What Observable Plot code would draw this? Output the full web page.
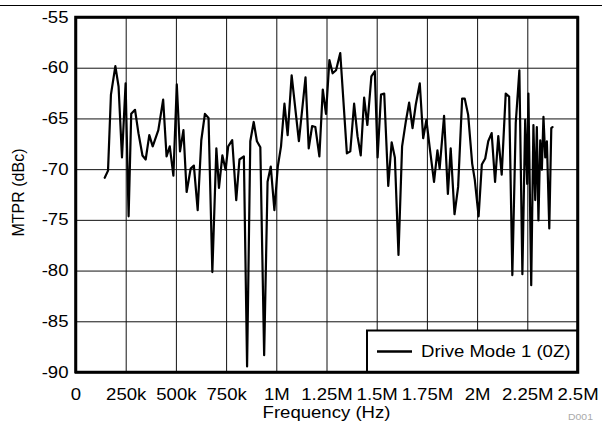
<!DOCTYPE html>
<html>
<head>
<meta charset="utf-8">
<script src="https://cdn.jsdelivr.net/npm/d3@7"></script>
<script src="https://cdn.jsdelivr.net/npm/@observablehq/plot@0.6"></script>
<style>
  html, body { margin: 0; padding: 0; background: white; }
  #chart { position: relative; width: 602px; height: 422px; overflow: hidden; }
</style>
</head>
<body>
<div id="chart"></div>
<script>
// ---- data ----
const freqHz = [
  143000, 159500, 174000, 196000, 212000, 229000, 247000, 262000, 275000, 294000,
  311000, 331000, 347000, 365000, 382000, 410000, 434000, 451000, 467000, 485000,
  502000, 518000, 535000, 551000, 571000, 587000, 606000, 624000, 642000, 660000,
  679000, 699000, 712000, 729000, 745000, 758000, 778000, 798000, 814000, 836000,
  852000, 868000, 885000, 901000, 918000, 937000, 954000, 970000, 988000, 1005000,
  1021000, 1038000, 1054000, 1074000, 1110000, 1143000, 1159000, 1176000, 1192000, 1212000,
  1229000, 1245000, 1262000, 1278000, 1295000, 1316000, 1349000, 1366000, 1385000, 1402000,
  1418000, 1435000, 1451000, 1471000, 1488000, 1502000, 1519000, 1535000, 1555000, 1572000,
  1588000, 1606000, 1624000, 1643000, 1659000, 1676000, 1692000, 1712000, 1729000, 1745000,
  1762000, 1783000, 1800000, 1811000, 1833000, 1852000, 1866000, 1885000, 1903000, 1923000,
  1936000, 1953000, 1973000, 1986000, 2005000, 2021000, 2038000, 2053000, 2070000, 2087000,
  2103000, 2120000, 2140000, 2157000, 2173000, 2190000, 2208000, 2223000, 2237000, 2247000,
  2253000, 2267000, 2278000, 2287000, 2295000, 2303000, 2312000, 2320000, 2328000, 2337000,
  2345000, 2357000, 2367000, 2373000
];
const mtprDbc = [
  -70.8, -70.1, -62.6, -59.8, -61.8, -68.8, -61.5, -74.6, -64.5, -64.1,
  -66.4, -68.6, -69.0, -66.6, -67.7, -66.1, -63.1, -68.7, -67.7, -70.6,
  -61.6, -68.2, -66.1, -72.2, -69.9, -69.6, -74.0, -67.1, -64.5, -64.9,
  -80.1, -67.9, -71.8, -68.6, -70.0, -67.7, -67.1, -73.0, -69.0, -68.7,
  -89.4, -67.2, -65.3, -67.2, -67.8, -88.3, -71.2, -69.7, -74.0, -69.7,
  -67.7, -63.5, -66.6, -60.7, -67.2, -60.9, -67.9, -65.7, -65.8, -68.7,
  -62.1, -64.5, -59.2, -60.5, -60.2, -58.5, -68.4, -68.2, -63.5, -66.7,
  -68.6, -62.9, -65.6, -60.8, -60.3, -68.8, -62.6, -62.5, -71.6, -67.3,
  -68.8, -78.4, -67.7, -65.2, -63.4, -65.9, -63.6, -61.5, -66.9, -65.1,
  -67.9, -71.2, -68.1, -69.9, -64.7, -72.4, -67.9, -74.4, -71.7, -63.0,
  -63.0, -64.6, -69.4, -71.0, -74.6, -69.5, -68.9, -67.2, -66.4, -71.2,
  -66.7, -70.5, -62.5, -62.8, -80.4, -65.4, -60.2, -80.3, -65.1, -71.4,
  -62.5, -81.4, -65.6, -73.0, -65.8, -75.0, -67.1, -70.0, -64.8, -68.8,
  -67.2, -75.8, -65.9, -65.8
];
const xTicks = [0, 250000, 500000, 750000, 1000000, 1250000, 1500000, 1750000, 2000000, 2250000, 2500000];
const xTickLabels = ["0", "250k", "500k", "750k", "1M", "1.25M", "1.5M", "1.75M", "2M", "2.25M", "2.5M"];
const yTicks = [-90, -85, -80, -75, -70, -65, -60, -55];
const yTickLabels = ["-90", "-85", "-80", "-75", "-70", "-65", "-60", "-55"];
const seriesName = "Drive Mode 1 (0Z)";
const xTitle = "Frequency (Hz)";
const yTitle = "MTPR (dBc)";
const figureCode = "D001";

// ---- build ----
const rows = freqHz.map((f, i) => ({ f, v: mtprDbc[i] }));
const STRETCH = 1.16;
const FONT = "'Liberation Sans', Arial, Helvetica, sans-serif";

const chart = Plot.plot({
  width: 602,
  height: 422,
  marginLeft: 75.5,
  marginRight: 24.5,
  marginTop: 17,
  marginBottom: 50,
  style: { fontFamily: FONT, fontSize: "16px", color: "black", background: "white", overflow: "visible" },
  x: {
    domain: [0, 2500000],
    ticks: xTicks,
    tickFormat: d => xTickLabels[xTicks.indexOf(d)],
    tickSize: 0,
    tickPadding: 16,
    label: null
  },
  y: {
    domain: [-90, -55],
    ticks: yTicks,
    tickFormat: d => yTickLabels[yTicks.indexOf(d)],
    tickSize: 0,
    tickPadding: 7.5,
    label: null
  },
  marks: [
    Plot.gridX(xTicks, { stroke: "#111", strokeOpacity: 1, strokeWidth: 1 }),
    Plot.gridY(yTicks, { stroke: "#111", strokeOpacity: 1, strokeWidth: 1 }),
    Plot.line(rows, { x: "f", y: "v", stroke: "black", strokeWidth: 2.2 }),
    Plot.frame({ stroke: "black", strokeWidth: 2.5 })
  ]
});

// stretch tick labels horizontally (reference text is wide)
chart.querySelectorAll("text").forEach(el => {
  let t = el.getAttribute("transform") || "";
  const x = el.getAttribute("x");
  if (x && +x !== 0) { t += ` translate(${x},0)`; el.removeAttribute("x"); }
  el.setAttribute("transform", (t + ` scale(${STRETCH},1)`).trim());
});

const svg = d3.select(chart);
const W = 602, H = 422, mL = 75.5, mR = 24.5, mT = 17, mB = 50;
const plotRight = W - mR, plotBottom = H - mB;

// top rule
svg.append("line").attr("x1", 0).attr("x2", W).attr("y1", 5.5).attr("y2", 5.5)
  .attr("stroke", "black").attr("stroke-width", 1);

// legend
const lg = svg.append("g").attr("font-family", FONT).attr("font-size", 16).attr("text-anchor", "start");
lg.append("rect").attr("x", 367).attr("y", 330.5).attr("width", plotRight - 367).attr("height", plotBottom - 330.5)
  .attr("fill", "white").attr("stroke", "black").attr("stroke-width", 2);
lg.append("line").attr("x1", 377).attr("x2", 412).attr("y1", 351.5).attr("y2", 351.5)
  .attr("stroke", "black").attr("stroke-width", 2.5);
lg.append("text").attr("text-anchor", "start")
  .attr("transform", `translate(421,357) scale(${STRETCH},1)`).attr("fill", "black").text(seriesName);
// re-draw frame edges over legend
svg.append("rect").attr("x", mL).attr("y", mT).attr("width", plotRight - mL).attr("height", plotBottom - mT)
  .attr("fill", "none").attr("stroke", "black").attr("stroke-width", 2.5);

// axis titles
svg.append("text").attr("font-family", FONT).attr("font-size", 16).attr("text-anchor", "middle")
  .attr("transform", `translate(${(mL + plotRight) / 2},418.3) scale(${STRETCH},1)`).attr("fill", "black").text(xTitle);
svg.append("text").attr("font-family", FONT).attr("font-size", 16).attr("text-anchor", "middle")
  .attr("transform", `translate(24,${(mT + plotBottom) / 2 - 2}) rotate(-90)`).attr("fill", "black").text(yTitle);

// figure code (small grey code at bottom-right)
svg.append("text").attr("font-family", FONT).attr("font-size", 9).attr("fill", "#aaa").attr("text-anchor", "start")
  .attr("transform", `translate(568,419.5) scale(${STRETCH},1)`).text(figureCode);

document.getElementById("chart").appendChild(chart);
</script>
</body>
</html>
